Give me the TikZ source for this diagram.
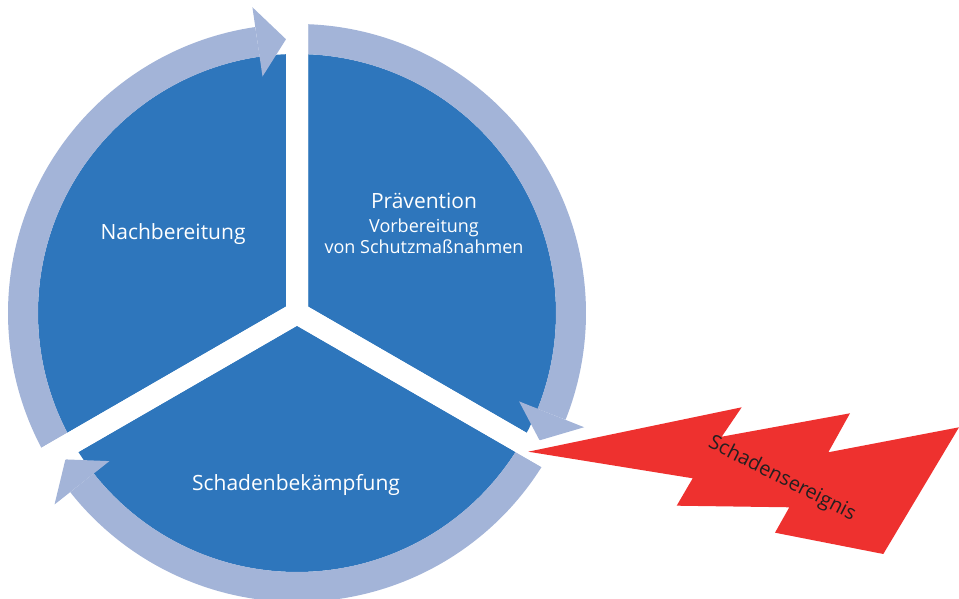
\documentclass[tikz,border=0pt]{standalone}
\usepackage{fontspec}
\setmainfont{Open Sans}
\usepackage{tikz}
\usetikzlibrary{calc, positioning}
\definecolor{phaseblue}{RGB}{46, 118, 188}
\definecolor{ringblue}{RGB}{163, 180, 216}
\definecolor{boltred}{RGB}{238, 49, 47}
\definecolor{darktext}{RGB}{35, 31, 32}

\begin{document}
\begin{tikzpicture}[x=1pt, y=1pt, line cap=butt, line join=miter,
    ring/.style={draw=ringblue, line width=30},
    head/.style={fill=ringblue},
    gap/.style={draw=white, line width=22},
    phase/.style={text=white, font=\fontsize{21}{24}\selectfont, align=center},
    subphase/.style={text=white, font=\fontsize{18}{21}\selectfont, align=center}]
		\useasboundingbox (0,0) rectangle (959,599);
		% centre of the cycle
		\coordinate (O) at (297,286);
		\fill [phaseblue] (O) circle[radius=259];
		
		% ring arrows: start / base of head / tip
		\foreach \s/\b/\t in {90/-21.7/-27.7, -30/-141.7/-147.7, 210/98.3/92.3}{
			\draw [ring] ($(O)+(\s:274)$) arc[start angle=\s, end angle=\b, radius=274];
			\fill [head] ($(O)+(\b:239)$) -- ($(O)+(\b:309)$) -- ($(O)+(\t:274)$) -- cycle;
		}
		
		% white gaps between the phases
		\foreach \a/\c in {90/-30, -30/210, 210/90}
			\draw [gap] ($(O)+(\a:330)$) -- (O) -- ($(O)+(\c:330)$);
		
		% lightning
		\fill [boltred] (528.3,147.3) -- (741.7,191.7) -- (721.7,162.3) -- (850,185.7)
			-- (828.3,146.7) -- (959,171.7) -- (883.3,45) -- (775,66.3) -- (789.3,91.7)
			-- (676.7,93.3) -- (692.7,120.7) -- cycle;
		\node [text=darktext, font=\fontsize{20}{24}\selectfont, rotate=-27] (event) at (782,120) {Schadensereignis};
		
		% labels
		\node [phase] (prev) at (424,398) {Prävention};
		\node [subphase] (prep) at (424,362.5) {Vorbereitung\\von Schutzmaßnahmen};
		\node [phase] (post) at (173,365) {Nachbereitung};
		\node [phase] (fight) at (296,114) {Schadenbekämpfung};
    \end{tikzpicture}
\end{document}
